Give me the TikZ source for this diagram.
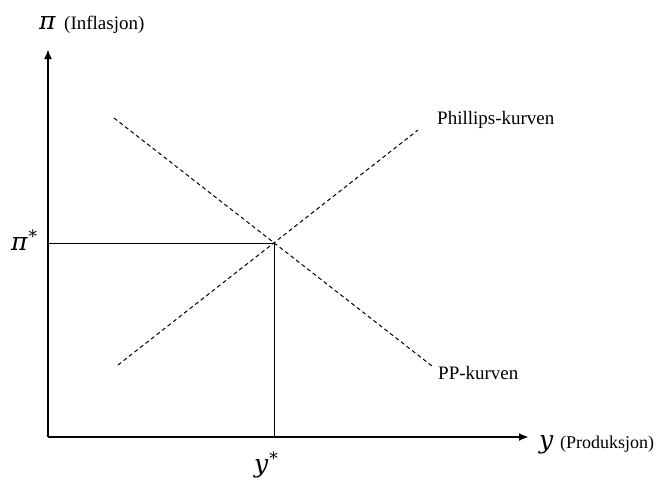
\documentclass[tikz,border=0pt]{standalone}
\usepackage{fontspec}
\setmainfont{Liberation Serif}
\newfontfamily\symfont{DejaVu Serif}
\usetikzlibrary{arrows.meta}
\begin{document}
\begin{tikzpicture}[x=1pt,y=-1pt,
  axis/.style={line width=2.2pt,-{Latex[length=10pt,width=8pt]}},
  guide/.style={line width=1pt},
  curve/.style={line width=1pt,dash pattern=on 4pt off 3pt},
  lbl/.style={inner sep=0pt,font=\fontsize{19}{21}\selectfont},
  sym/.style={inner sep=0pt,font=\symfont\itshape\fontsize{25}{27}\selectfont}]
\useasboundingbox (0,0) rectangle (658,479);
\coordinate (O) at (48,437);
\coordinate (ytop) at (48,49);
\coordinate (xend) at (529,437);
\coordinate (E) at (274,243);
\coordinate (piL) at (48,243);
\coordinate (yB) at (274,437);
\coordinate (ph1) at (118,365);
\coordinate (ph2) at (418,130);
\coordinate (pp1) at (114,118);
\coordinate (pp2) at (432,366);
\draw[guide] (piL) -- (E) -- (yB);
\draw[curve] (ph1) -- (ph2);
\draw[curve] (pp1) -- (pp2);
\draw[axis] (O) -- (ytop);
\draw[axis] (O) -- (xend);
\node[sym,anchor=base west] (pisym) at (39,29) {π};
\node[lbl,anchor=base west] (infl) at (64,29) {(Inflasjon)};
\node[sym,anchor=base west] (pistar) at (11,250) {π\kern1pt\raisebox{0.3em}{\fontsize{17}{17}\selectfont *}};
\node[sym,anchor=base west] (ysym) at (539,448) {y};
\node[lbl,anchor=base west,font=\fontsize{18}{20}\selectfont] (prod) at (560,448) {(Produksjon)};
\node[sym,anchor=base west] (ystar) at (254,472) {y\kern1pt\raisebox{0.3em}{\fontsize{17}{17}\selectfont *}};
\node[lbl,anchor=base west] (phl) at (437,124) {Phillips-kurven};
\node[lbl,anchor=base west] (ppl) at (438,379) {PP-kurven};
\end{tikzpicture}
\end{document}
